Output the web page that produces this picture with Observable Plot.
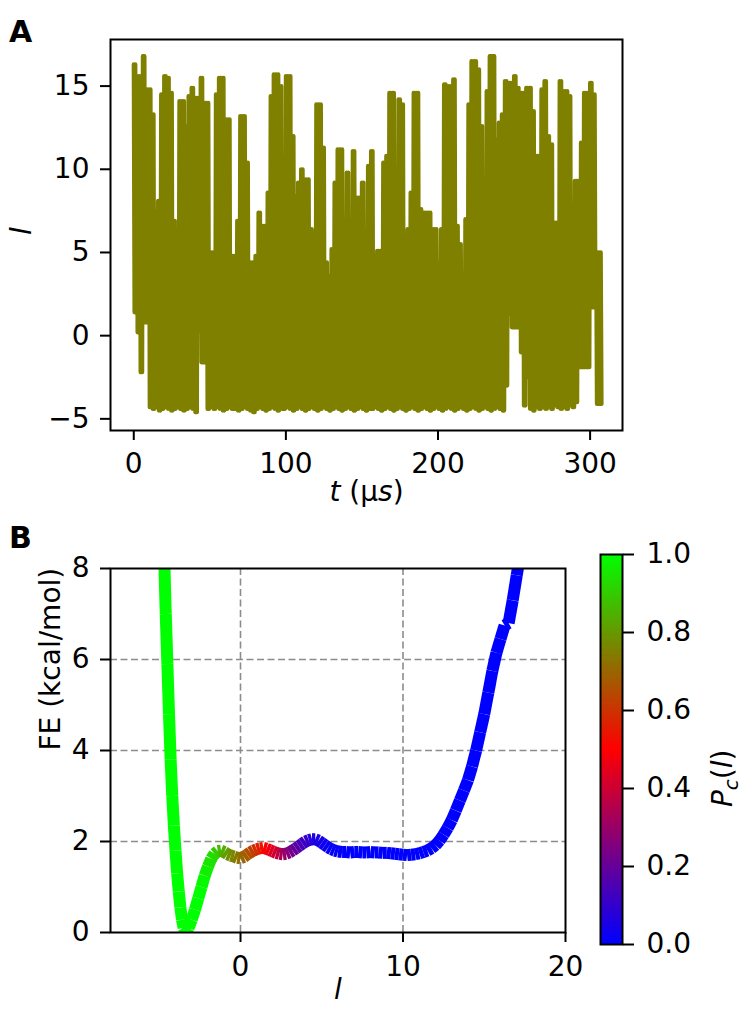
<!DOCTYPE html>
<html><head><meta charset="utf-8">
<script src="https://cdn.jsdelivr.net/npm/d3@7"></script>
<script src="https://cdn.jsdelivr.net/npm/@observablehq/plot@0.6"></script>
<style>
html,body{margin:0;padding:0;background:#fff;}
#fig{position:relative;width:750px;height:1034px;overflow:hidden;font-family:"DejaVu Sans",sans-serif;background:#fff;}
.panel{position:absolute;}
.lab{position:absolute;font-family:"DejaVu Sans",sans-serif;font-weight:bold;font-size:30px;line-height:30px;}
</style></head><body>
<div id="fig"></div>
<script>
// ---------- Panel A: time series of l (sampled every 2 µs; peak and trough per sample) ----------
const traceStep = 2; // µs between samples
const tracePeaks = [16.3,15.6,15.6,16.8,14.8,14.8,13.3,7.5,8.1,14.5,15.6,15.5,14.6,6.9,5.4,14.1,14.1,12.6,14.4,14.9,
  14.3,14.3,15.5,14.0,14.0,5.0,5.0,14.5,15.5,15.5,13.0,13.0,4.8,4.8,6.9,13.2,13.2,10.4,4.4,4.4,
  4.8,7.4,6.6,6.6,8.6,14.4,15.7,15.7,15.0,5.1,15.6,15.6,12.0,8.4,9.2,10.0,9.4,9.4,6.4,6.1,
  13.9,13.9,11.3,4.4,3.6,5.2,9.2,11.2,11.2,5.6,9.8,6.2,11.1,8.3,8.3,9.2,6.1,10.2,11.1,4.1,
  5.1,5.1,10.4,10.8,14.6,14.6,6.8,14.2,13.9,5.3,6.4,8.6,14.6,14.6,7.6,7.4,7.4,7.4,6.4,6.4,
  4.4,6.4,15.1,15.0,15.0,15.4,6.6,5.5,3.6,7.0,13.9,16.5,16.5,16.0,12.6,6.2,14.7,16.8,16.8,11.8,
  12.8,13.3,15.3,15.2,15.2,15.6,14.9,14.6,14.6,14.9,14.9,13.5,10.8,10.8,14.8,15.3,12.0,11.5,6.8,6.8,
  15.3,14.7,14.7,14.4,7.5,9.3,9.3,11.6,14.6,14.6,15.2,14.5,5.0,5.0];
const traceTroughs = [1.4,0.2,-2.2,0.8,0.8,-4.3,-4.4,-4.3,-4.5,-4.4,-4.3,-4.4,-4.5,-4.4,-4.3,-4.4,-4.5,-4.4,-4.3,-4.4,
  -4.6,0.3,-1.6,-1.6,-4.4,-4.3,-4.4,-4.3,-4.4,-4.5,-4.4,-4.3,-4.4,-4.4,-4.5,-4.4,-4.3,-4.4,-4.5,-4.6,
  -4.4,-4.3,-4.4,-4.5,-4.4,-4.3,-4.4,-4.5,-4.4,-4.4,-4.3,-4.4,-4.5,-4.4,-4.3,-4.4,-4.5,-4.4,-4.3,-4.4,
  -4.5,-4.4,-4.3,-4.4,-4.5,-4.4,-4.3,-4.4,-4.5,-4.4,-4.3,-4.4,-4.5,-4.4,-4.3,-4.4,-4.5,-4.4,-4.4,-4.3,
  -4.4,-4.5,-4.4,-4.3,-4.4,-4.5,-4.4,-4.3,-4.4,-4.5,-4.4,-4.3,-4.4,-4.5,-4.4,-4.3,-4.4,-4.5,-4.4,-4.3,
  -4.4,-4.5,-4.4,-4.3,-4.4,-4.5,-4.4,-4.3,-4.4,-4.5,-4.4,-4.3,-4.4,-4.5,-4.4,-4.3,-4.4,-4.5,-4.4,-4.3,
  -4.4,-4.5,-3.0,1.3,0.5,0.5,0.5,-1.0,-4.2,-2.5,-4.4,-4.5,-4.3,-4.4,-4.3,-4.4,-4.3,-4.4,-4.2,-4.3,
  -4.4,-4.3,-4.4,-4.2,-4.3,-4.0,-1.9,-1.9,-1.9,-1.9,1.7,1.7,-4.1,-4.1];
const xTicksA = [0, 100, 200, 300];
const yTicksA = [-5, 0, 5, 10, 15];

// ---------- Panel B: free energy profile coloured by Pc(l) ----------
const lVals = [-4.8,-4.7,-4.6,-4.5,-4.4,-4.3,-4.2,-4.1,-4.0,-3.9,-3.8,-3.7,-3.6,-3.5,-3.4,-3.3,-3.2,-3.0,-2.8,-2.6,
  -2.4,-2.2,-2.0,-1.8,-1.6,-1.4,-1.2,-1.0,-0.8,-0.6,-0.4,-0.2,0.0,0.2,0.4,0.6,0.8,1.0,1.2,1.4,
  1.6,1.8,2.0,2.2,2.4,2.6,2.8,3.0,3.2,3.4,3.6,3.8,4.0,4.2,4.4,4.6,4.8,5.0,5.2,5.4,
  5.6,5.8,6.0,6.25,6.5,6.75,7.0,7.25,7.5,7.75,8.0,8.25,8.5,8.75,9.0,9.25,9.5,9.75,10.0,10.25,
  10.5,10.75,11.0,11.25,11.5,11.75,12.0,12.25,12.5,12.75,13.0,13.25,13.5,13.75,14.0,14.25,14.5,14.75,15.0,15.25,
  15.5,15.75,16.0,16.25,16.5,16.75,17.0,17.25];
const feVals = [9.6,8.3,7.0,5.9,4.8,3.8,3.0,2.35,1.8,1.3,0.9,0.55,0.28,0.1,0.02,0.03,0.1,0.28,0.5,0.75,
  1.0,1.25,1.45,1.62,1.73,1.79,1.8,1.77,1.72,1.69,1.67,1.64,1.63,1.66,1.71,1.76,1.8,1.83,1.85,1.86,
  1.84,1.81,1.78,1.75,1.73,1.72,1.73,1.76,1.8,1.85,1.9,1.95,2.0,2.03,2.05,2.05,2.02,1.97,1.92,1.87,
  1.83,1.8,1.78,1.77,1.77,1.76,1.77,1.77,1.76,1.76,1.77,1.76,1.76,1.75,1.75,1.74,1.73,1.72,1.71,1.7,
  1.71,1.72,1.74,1.77,1.8,1.85,1.92,2.02,2.15,2.3,2.47,2.68,2.9,3.12,3.35,3.65,4.0,4.4,4.8,5.27,
  5.75,6.15,6.45,6.75,6.8,7.3,7.85,8.4];
const pcVals = [1,1,1,1,1,1,1,1,1,1,1,1,1,1,1,1,1,1,1,1,
  0.99,0.97,0.95,0.93,0.9,0.87,0.84,0.81,0.78,0.76,0.74,0.72,0.70,0.68,0.65,0.62,0.59,0.56,0.53,0.5,
  0.47,0.44,0.41,0.37,0.33,0.3,0.26,0.23,0.2,0.17,0.14,0.12,0.1,0.08,0.06,0.05,0.04,0.03,0.02,0.01,
  0.01,0.01,0,0,0,0,0,0,0,0,0,0,0,0,0,0,0,0,0,0,
  0,0,0,0,0,0,0,0,0,0,0,0,0,0,0,0,0,0,0,0,
  0,0,0,0,0,0,0,0];
const xTicksB = [0, 10, 20];
const yTicksB = [0, 2, 4, 6, 8];
const gridXB = [0, 10];
const gridYB = [2, 4, 6];
const cbTicks = [0, 0.2, 0.4, 0.6, 0.8, 1.0];
const pcStops = [0, 0.5, 1];
const pcColors = ["#0000ff", "#ff0000", "#00ff00"];

const FONT = "DejaVu Sans";
const OLIVE = "#808000";
const baseStyle = {fontFamily: FONT, fontSize: "28px", color: "black", background: "white", overflow: "visible"};
const colorScale = {type: "linear", domain: pcStops, range: pcColors, interpolate: "rgb"};

// build the dense zig-zag trace from the read peaks/troughs (two swings per sample)
const traceData = [];
tracePeaks.forEach((p, i) => {
  const t0 = i * traceStep;
  traceData.push({t: t0, v: p});
  traceData.push({t: t0 + traceStep / 4, v: traceTroughs[i]});
  traceData.push({t: t0 + traceStep / 2, v: p});
  traceData.push({t: t0 + 3 * traceStep / 4, v: traceTroughs[i]});
});

const plotA = Plot.plot({
  width: 750, height: 520,
  marginLeft: 110, marginRight: 128, marginTop: 39, marginBottom: 90,
  style: baseStyle,
  x: {domain: [-15.3, 321.3], label: null},
  y: {domain: [-5.7, 17.8], label: null},
  marks: [
    Plot.line(traceData, {x: "t", y: "v", stroke: OLIVE, strokeWidth: 4.2, strokeLinejoin: "round", strokeLinecap: "round", clip: true}),
    Plot.frame({stroke: "black", strokeWidth: 2}),
    Plot.axisX({ticks: xTicksA, tickSize: 10, tickPadding: 13, strokeWidth: 2, label: null, fontSize: 28}),
    Plot.axisY({ticks: yTicksA, tickSize: 10, tickPadding: 11, strokeWidth: 2, label: null, fontSize: 28}),
    Plot.text(["t (μs)"], {text: d => d, frameAnchor: "bottom", dy: 70, fontSize: 28}),
    Plot.text(["l"], {text: d => d, frameAnchor: "left", dx: -88, rotate: -90, fontSize: 28, fontStyle: "italic"})
  ]
});

const feSegs = lVals.slice(0, -1).map((l, i) => ({x1: l, y1: feVals[i], x2: lVals[i + 1], y2: feVals[i + 1], pc: pcVals[i]}));
const gridStyle = {stroke: "#8c8c8c", strokeWidth: 1.6, strokeDasharray: "7,3.5"};
const plotB = Plot.plot({
  width: 585, height: 514,
  marginLeft: 110, marginRight: 20, marginTop: 48, marginBottom: 102,
  style: baseStyle,
  x: {domain: [-8, 20], label: null},
  y: {domain: [0, 8], label: null},
  color: colorScale,
  marks: [
    Plot.ruleX(gridXB, gridStyle),
    Plot.ruleY(gridYB, gridStyle),
    Plot.link(feSegs, {x1: "x1", y1: "y1", x2: "x2", y2: "y2", stroke: "pc", strokeWidth: 12, strokeLinecap: "butt", clip: true}),
    Plot.frame({stroke: "black", strokeWidth: 2}),
    Plot.axisX({ticks: xTicksB, tickSize: 10, tickPadding: 14, strokeWidth: 2, label: null, fontSize: 28}),
    Plot.axisY({ticks: yTicksB, tickSize: 10, tickPadding: 11, strokeWidth: 2, label: null, fontSize: 28}),
    Plot.text(["l"], {text: d => d, frameAnchor: "bottom", dy: 66, fontSize: 28, fontStyle: "italic"}),
    Plot.text(["FE (kcal/mol)"], {text: d => d, frameAnchor: "left", dx: -59, rotate: -90, fontSize: 28})
  ]
});

const cbStep = 0.005;
const cbBins = d3.range(0, 1, cbStep);
const plotC = Plot.plot({
  width: 165, height: 430,
  marginLeft: 15, marginRight: 128, marginTop: 14, marginBottom: 26,
  style: baseStyle,
  x: {domain: [0, 1], axis: null},
  y: {domain: [0, 1], label: null},
  color: colorScale,
  marks: [
    Plot.rect(cbBins, {x1: () => 0, x2: () => 1, y1: d => d, y2: d => Math.min(1, d + cbStep * 1.8), fill: d => d + cbStep / 2, inset: 0}),
    Plot.frame({stroke: "black", strokeWidth: 2}),
    Plot.axisY({anchor: "right", ticks: cbTicks, tickFormat: d3.format(".1f"), tickSize: 11, tickPadding: 13, strokeWidth: 2, label: null, fontSize: 28}),
    Plot.text(["Pc(l)"], {text: d => d, frameAnchor: "right", dx: 101, rotate: -90, fontSize: 28})
  ]
});

// rich text for math-style labels
function richLabel(svg, raw, parts) {
  d3.select(svg).selectAll("text").filter(function () { return this.textContent === raw; }).each(function () {
    const t = d3.select(this);
    t.text(null);
    parts.forEach(p => {
      const s = t.append("tspan").text(p.text);
      if (p.italic) s.attr("font-style", "italic");
      if (p.size) s.attr("font-size", p.size);
      if (p.dy) s.attr("dy", p.dy);
    });
  });
}
richLabel(plotA, "t (μs)", [{text: "t", italic: true}, {text: " (μ"}, {text: "s", italic: true}, {text: ")"}]);
richLabel(plotC, "Pc(l)", [{text: "P", italic: true}, {text: "c", italic: true, size: 20, dy: 6}, {text: "(", dy: -6}, {text: "l", italic: true}, {text: ")"}]);

const fig = document.getElementById("fig");
function place(node, left, top) {
  node.classList.add("panel");
  node.style.left = left + "px";
  node.style.top = top + "px";
  fig.appendChild(node);
}
place(plotA, 0, 0);
place(plotB, 0, 520);
place(plotC, 585, 540);
function panelLabel(txt, left, top) {
  const d = document.createElement("div");
  d.className = "lab";
  d.textContent = txt;
  d.style.left = left + "px";
  d.style.top = top + "px";
  fig.appendChild(d);
}
panelLabel("A", 9, 17);
panelLabel("B", 9, 523);
</script>
</body></html>
